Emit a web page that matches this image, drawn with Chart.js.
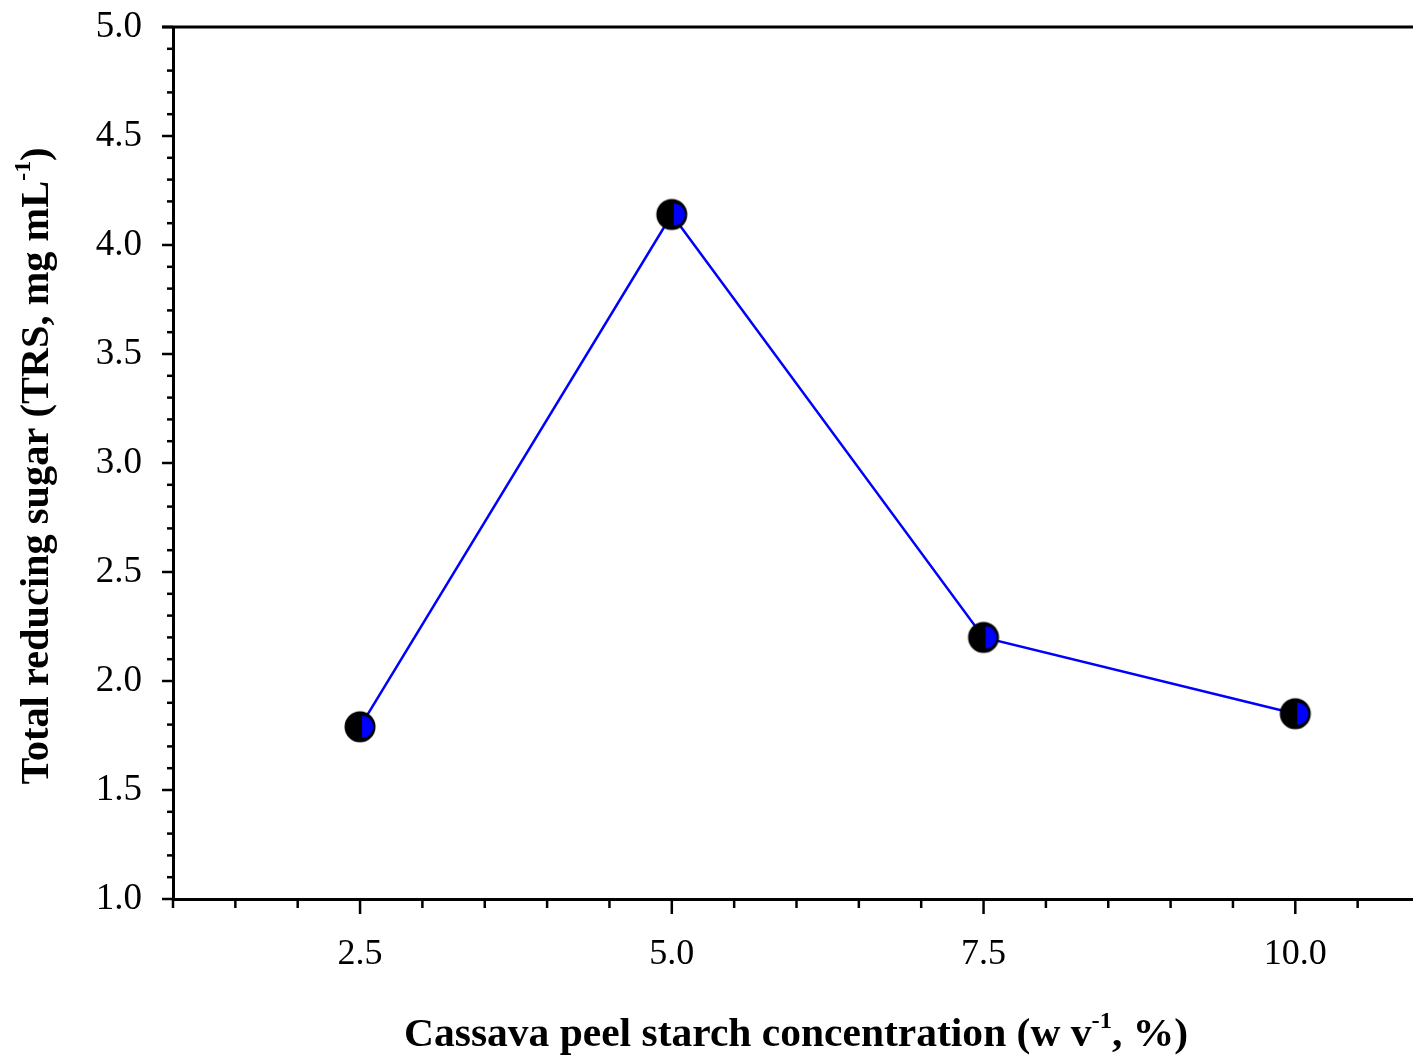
<!DOCTYPE html>
<html>
<head>
<meta charset="utf-8">
<script src="https://cdn.jsdelivr.net/npm/chart.js@4"></script>
<style>
  html, body { margin: 0; padding: 0; background: #fff; overflow: hidden; }
  #wrap { width: 1420px; height: 1059px; }
</style>
</head>
<body>
<div id="wrap"><canvas id="chart" width="1420" height="1059"></canvas></div>
<script>
// data
const concentrations = [2.5, 5.0, 7.5, 10.0];
const trsValues = [1.79, 4.14, 2.20, 1.85];
const xLabels = ['2.5', '5.0', '7.5', '10.0'];
const yLabels = ['1.0', '1.5', '2.0', '2.5', '3.0', '3.5', '4.0', '4.5', '5.0'];

const serif = '"Liberation Serif", "Times New Roman", serif';

// half-filled circle marker (black with blue right half)
const makeMarker = () => {
  const c = document.createElement('canvas');
  c.width = 34; c.height = 34;
  const g = c.getContext('2d');
  g.fillStyle = '#000';
  g.beginPath();
  g.arc(17, 17, 15.5, 0, Math.PI * 2);
  g.fill();
  g.fillStyle = '#0000ff';
  g.beginPath();
  g.moveTo(19, 6);
  g.arc(19, 17, 11, -Math.PI / 2, Math.PI / 2);
  g.closePath();
  g.fill();
  return c;
};

const isMult = (v, step) => Math.abs(v / step - Math.round(v / step)) < 1e-6;

// text with superscript parts, squeezed to a given width
const drawRich = (ctx, parts, width, size) => {
  const main = `bold ${size}px ${serif}`;
  const sup = `bold ${Math.round(size * 0.6)}px ${serif}`;
  let total = 0;
  parts.forEach(p => { ctx.font = p.sup ? sup : main; total += ctx.measureText(p.t).width; });
  const k = width / total;
  ctx.scale(k, 1);
  let x = -total / 2;
  parts.forEach(p => {
    ctx.font = p.sup ? sup : main;
    ctx.fillText(p.t, x, p.sup ? -size * 0.45 : 0);
    x += ctx.measureText(p.t).width;
  });
};

// ticks, top frame line and axis titles
const framePlugin = {
  id: 'frame',
  afterDraw: (chart) => {
    const ctx = chart.ctx;
    const { left, right, top, bottom } = chart.chartArea;
    const xs = chart.scales.x, ys = chart.scales.y;
    ctx.save();
    ctx.strokeStyle = '#000';
    ctx.lineWidth = 3;
    ctx.beginPath();
    ctx.moveTo(left - 11, top);
    ctx.lineTo(right, top);
    ctx.stroke();

    ctx.lineWidth = 2.5;
    ys.ticks.forEach(t => {
      const y = ys.getPixelForValue(t.value);
      const len = isMult(t.value, 0.5) ? 11 : 6;
      ctx.beginPath();
      ctx.moveTo(left - len, y);
      ctx.lineTo(left, y);
      ctx.stroke();
    });
    xs.ticks.forEach(t => {
      const x = xs.getPixelForValue(t.value);
      const len = isMult(t.value, 2.5) ? 15 : 9;
      ctx.beginPath();
      ctx.moveTo(x, bottom);
      ctx.lineTo(x, bottom + len);
      ctx.stroke();
    });

    ctx.fillStyle = '#000';
    ctx.textBaseline = 'alphabetic';
    ctx.textAlign = 'left';
    ctx.save();
    ctx.translate(796, 1046);
    drawRich(ctx, [{ t: 'Cassava peel starch concentration (w v' }, { t: '-1', sup: true }, { t: ', %)' }], 784, 39);
    ctx.restore();
    ctx.save();
    ctx.translate(48, 466);
    ctx.rotate(-Math.PI / 2);
    drawRich(ctx, [{ t: 'Total reducing sugar (TRS, mg mL' }, { t: '-1', sup: true }, { t: ')' }], 637, 39);
    ctx.restore();
    ctx.restore();
  }
};

new Chart(document.getElementById('chart'), {
  type: 'line',
  data: {
    datasets: [{
      data: concentrations.map((c, i) => ({ x: c, y: trsValues[i] })),
      borderColor: '#0000ff',
      borderWidth: 2.5,
      pointStyle: makeMarker(),
      pointRadius: 16,
      pointHoverRadius: 16,
      tension: 0,
      fill: false
    }]
  },
  options: {
    responsive: false,
    animation: false,
    devicePixelRatio: 1,
    layout: { autoPadding: false, padding: { top: 27, right: 0, left: 0, bottom: 0 } },
    plugins: { legend: { display: false }, tooltip: { enabled: false } },
    scales: {
      x: {
        type: 'linear',
        min: 1,
        max: 11,
        afterFit: (s) => { s.height = 160; s.paddingLeft = 0; s.paddingRight = 0; },
        border: { display: true, color: '#000', width: 3 },
        grid: { display: false, drawTicks: false },
        ticks: {
          stepSize: 0.5,
          autoSkip: false,
          maxRotation: 0,
          padding: 34,
          color: '#000',
          font: { family: serif, size: 36 },
          callback: (v) => {
            const i = concentrations.findIndex(c => Math.abs(c - v) < 1e-6);
            return i >= 0 ? xLabels[i] : '';
          }
        }
      },
      y: {
        min: 1,
        max: 5,
        afterFit: (s) => { s.width = 173; s.paddingTop = 0; s.paddingBottom = 0; },
        border: { display: true, color: '#000', width: 3 },
        grid: { display: false, drawTicks: false },
        ticks: {
          stepSize: 0.1,
          autoSkip: false,
          padding: 31,
          color: '#000',
          font: { family: serif, size: 37 },
          callback: (v) => isMult(v, 0.5) ? yLabels[Math.round((v - 1) / 0.5)] : ''
        }
      }
    }
  },
  plugins: [framePlugin]
});
</script>
</body>
</html>
